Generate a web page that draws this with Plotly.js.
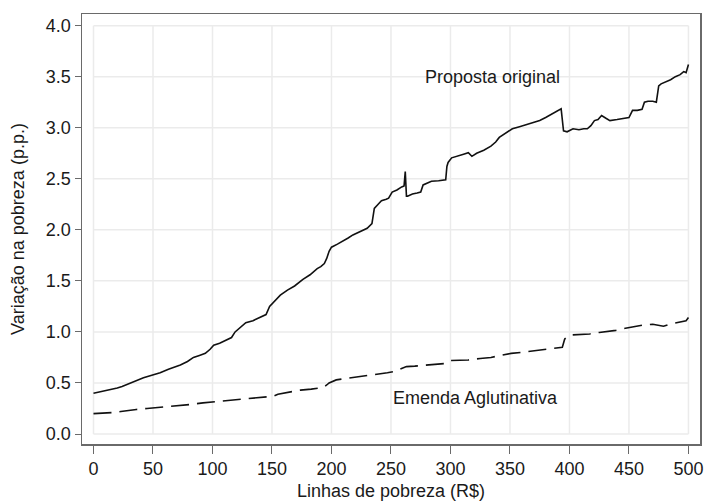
<!DOCTYPE html>
<html>
<head>
<meta charset="utf-8">
<script src="https://cdn.plot.ly/plotly-3.0.1.min.js"></script>
<style>html,body{margin:0;padding:0;background:#fff;}#chart{width:704px;height:503px;}</style>
</head>
<body>
<div id="chart"></div>
<script>
// Proposta original (solid line)
const propostaX = [0,7,14,20,24,31,36,42,49,56,63,68,73,79,84,89,94,98,101,106,112,116,119,124,128,134,140,145,148,152,157,163,169,176,182,188,191,194,196,198,200,205,210,214,218,224,230,234,235,236,240,242,246,248,251,255,259,261,262,263,264,268,272,275,277,281,284,290,296,297,298,301,306,311,315,318,322,328,334,338,341,346,352,358,364,369,375,380,385,390,393,395,398,403,408,412,415,418,421,424,427,431,434,440,446,450,453,457,461,463,466,470,473,475,477,481,485,489,493,496,498,500];
const propostaY = [0.40,0.415,0.43,0.45,0.465,0.50,0.525,0.55,0.575,0.60,0.635,0.655,0.675,0.71,0.75,0.77,0.79,0.83,0.87,0.89,0.92,0.945,1.00,1.05,1.09,1.11,1.14,1.17,1.25,1.30,1.36,1.41,1.45,1.515,1.56,1.62,1.64,1.67,1.72,1.79,1.83,1.86,1.89,1.92,1.95,1.98,2.015,2.06,2.13,2.21,2.26,2.285,2.30,2.31,2.37,2.39,2.42,2.43,2.57,2.33,2.33,2.35,2.36,2.37,2.44,2.46,2.475,2.48,2.49,2.62,2.66,2.705,2.72,2.74,2.755,2.72,2.75,2.78,2.82,2.86,2.905,2.94,2.99,3.01,3.03,3.05,3.07,3.10,3.13,3.16,3.185,2.97,2.96,2.99,2.98,2.99,2.99,3.02,3.07,3.08,3.12,3.09,3.07,3.08,3.09,3.10,3.17,3.17,3.18,3.25,3.26,3.26,3.25,3.41,3.43,3.45,3.47,3.50,3.52,3.55,3.54,3.62];

// Emenda Aglutinativa (dashed line)
const emendaX = [0,10,17,23,28,36,45,55,64,73,82,92,101,112,123,133,142,151,155,160,167,174,183,193,196,198,204,214,224,232,241,247,252,258,263,270,280,290,295,300,308,315,325,334,342,351,360,367,374,382,390,394,396,399,402,410,417,425,432,439,447,456,463,470,475,479,484,490,495,498,500];
const emendaY = [0.20,0.205,0.21,0.22,0.23,0.24,0.25,0.26,0.27,0.28,0.29,0.305,0.315,0.325,0.34,0.35,0.36,0.37,0.39,0.40,0.415,0.43,0.44,0.455,0.48,0.50,0.53,0.545,0.56,0.575,0.59,0.60,0.61,0.635,0.66,0.665,0.675,0.685,0.69,0.72,0.725,0.725,0.74,0.75,0.77,0.79,0.80,0.81,0.82,0.835,0.845,0.85,0.93,0.96,0.97,0.975,0.98,0.995,1.005,1.015,1.035,1.055,1.07,1.075,1.065,1.055,1.075,1.09,1.10,1.11,1.14];

const xTicks = [0,50,100,150,200,250,300,350,400,450,500];
const xTickLabels = ['0','50','100','150','200','250','300','350','400','450','500'];
const yTicks = [0,0.5,1,1.5,2,2.5,3,3.5,4];
const yTickLabels = ['0.0','0.5','1.0','1.5','2.0','2.5','3.0','3.5','4.0'];

const labelProposta = 'Proposta original';
const labelEmenda = 'Emenda Aglutinativa';

const FONT = 'Liberation Sans, Arial, sans-serif';
const FS = 18;
const gridColor = '#ebebeb';
const frameColor = '#6a6a6a';
const textColor = '#1a1a1a';

const shapes = [];
xTicks.forEach(v => shapes.push({type:'line', xref:'x', yref:'y', x0:v, x1:v, y0:yTicks[0], y1:yTicks[yTicks.length-1], layer:'below', line:{color:gridColor, width:1.5}}));
yTicks.forEach(v => shapes.push({type:'line', xref:'x', yref:'y', y0:v, y1:v, x0:xTicks[0], x1:xTicks[xTicks.length-1], layer:'below', line:{color:gridColor, width:1.5}}));

const traces = [
  {x: propostaX, y: propostaY, type:'scatter', mode:'lines', name: labelProposta, line:{color:'#111', width:1.6}},
  {x: emendaX, y: emendaY, type:'scatter', mode:'lines', name: labelEmenda, line:{color:'#111', width:1.6, dash:'18px,8px'}}
];

const layout = {
  width:704, height:503,
  margin:{l:82, r:4, t:14, b:59},
  paper_bgcolor:'#fff', plot_bgcolor:'#fff',
  showlegend:false,
  font:{family:FONT, size:FS, color:textColor},
  xaxis:{
    range:[-9.66, 509.7], tickvals:xTicks, ticktext:xTickLabels,
    showgrid:false, zeroline:false, showline:true, mirror:true,
    linecolor:frameColor, linewidth:1.5, ticks:'outside', ticklen:8, tickwidth:1, tickcolor:frameColor,
    tickfont:{family:FONT, size:FS, color:textColor},
    title:{text:'Linhas de pobreza (R$)', font:{family:FONT, size:FS, color:textColor}, standoff:6}
  },
  yaxis:{
    range:[-0.098, 4.114], tickvals:yTicks, ticktext:yTickLabels,
    showgrid:false, zeroline:false, showline:true, mirror:true,
    linecolor:frameColor, linewidth:1.5, ticks:'outside', ticklen:6, tickwidth:1, tickcolor:frameColor,
    tickfont:{family:FONT, size:FS, color:textColor},
    title:{text:'Variação na pobreza (p.p.)', font:{family:FONT, size:FS, color:textColor}, standoff:16}
  },
  shapes: shapes,
  annotations:[
    {x:335, y:3.5, xref:'x', yref:'y', text:labelProposta, showarrow:false, font:{family:FONT, size:FS, color:textColor}},
    {x:321, y:0.35, xref:'x', yref:'y', text:labelEmenda, showarrow:false, font:{family:FONT, size:FS, color:textColor}}
  ]
};

Plotly.newPlot('chart', traces, layout, {displayModeBar:false, staticPlot:true});
</script>
</body>
</html>
